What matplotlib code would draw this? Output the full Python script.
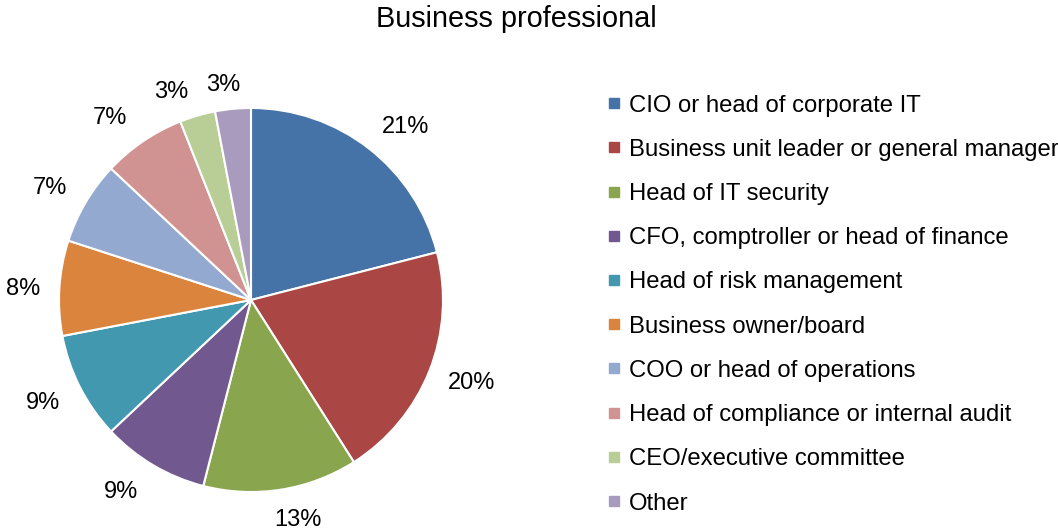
import numpy as np
import matplotlib
matplotlib.use("Agg")
import matplotlib.pyplot as plt
from matplotlib.lines import Line2D

plt.rcParams['font.family'] = ['Liberation Sans', 'DejaVu Sans']

categories = ["CIO or head of corporate IT", "Business unit leader or general manager",
              "Head of IT security", "CFO, comptroller or head of finance",
              "Head of risk management", "Business owner/board",
              "COO or head of operations", "Head of compliance or internal audit",
              "CEO/executive committee", "Other"]
values = [21, 20, 13, 9, 9, 8, 7, 7, 3, 3]
colors = ["#4572A7", "#AA4643", "#89A54E", "#71588F", "#4198AF",
          "#DB843D", "#93A9CF", "#D19392", "#B9CD96", "#A99BBD"]
title = "Business professional"

# label placement styling (distance in radii, angular nudge in degrees)
label_dist = [1.21, 1.225, 1.17, 1.21, 1.21, 1.19, 1.2, 1.2, 1.16, 1.13]
label_shift = [-4, 1, 3, -3.5, -0.7, 0.8, 1.6, 3.6, 4.8, 2]

fig = plt.figure(figsize=(10.58, 5.29), dpi=100)
W, H = 1058, 529
cx, cy, r = 251, 300, 192
ax = fig.add_axes([(cx - r) / W, (H - cy - r) / H, 2 * r / W, 2 * r / H])
wedges, texts = ax.pie(values, colors=colors, startangle=90, counterclock=False,
                       wedgeprops=dict(edgecolor="white", linewidth=1.5))
total = sum(values)
for w, v, d, s in zip(wedges, values, label_dist, label_shift):
    ang = np.deg2rad((w.theta1 + w.theta2) / 2 + s)
    ax.text(d * np.cos(ang), d * np.sin(ang), f"{100 * v / total:.0f}%",
            ha='center', va='center', fontsize=17, color='black')
ax.set_xlim(-1, 1)
ax.set_ylim(-1, 1)
ax.set_aspect('auto')
ax.axis('off')

fig.text(516 / W, 1 - 19 / H, title, ha='center', va='center', fontsize=20.8)

handles = [Line2D([0], [0], marker='s', linestyle='none', markersize=7.5,
                  markerfacecolor=c, markeredgecolor=c) for c in colors]
fig.legend(handles, categories, loc='upper left', bbox_to_anchor=(597.5 / W, 1 - 85 / H),
           frameon=False, fontsize=17.2, handlelength=0.6, handletextpad=0.3,
           labelspacing=0.93, borderaxespad=0)

fig.savefig("out.png", dpi=100)
